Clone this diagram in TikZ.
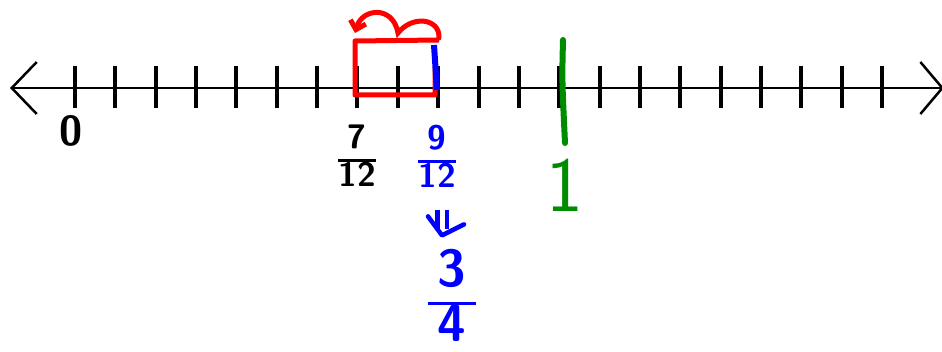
\documentclass[tikz,border=0pt]{standalone}
\usepackage{fontspec}
\usetikzlibrary{arrows.meta}

\definecolor{rojo}{RGB}{255,0,0}
\definecolor{azul}{RGB}{0,0,255}
\definecolor{verde}{RGB}{0,140,0}

\newcommand{\fraccion}[3][0pt]{{\setlength{\arrayrulewidth}{3pt}%
	\renewcommand{\arraystretch}{0.85}%
	\begin{tabular}{@{\hspace{#1}}c@{\hspace{#1}}}#2\\[2pt]\hline #3\end{tabular}}}

\begin{document}
\begin{tikzpicture}[x=1pt, y=-1pt,
	marca/.style={line width=4pt},
	etiqueta/.style={inner sep=0pt, font=\fontsize{34}{34}\selectfont\sffamily\bfseries}]

\useasboundingbox (0,0) rectangle (942,352);

% Recta numerica
\draw[line width=2.5pt, {Straight Barb[length=25pt, width=52pt]}-{Straight Barb[length=22pt, width=52pt]}] (10,88) -- (944,88);

	\foreach \i in {0, 1, ..., 20}
		\draw[marca] ({75+40.35*\i},66) -- ({75+40.35*\i},108);

\node[etiqueta, font=\fontsize{42}{42}\selectfont\sffamily\bfseries] (cero) at (71,131) {0};
\node[etiqueta] (sieteDoce) at (357,160) {\fraccion{7}{12}};

% Saltos hacia atras
\draw[rojo, line width=5pt, line join=round] (439,40) -- (355,41) -- (355,95) -- (435,95) -- (435,67);
\draw[azul, line width=6pt] (434,45) -- (437,90);
\draw[rojo, line width=5pt, line cap=round, -{Straight Barb[length=8pt, width=16pt]}]
	(439,38) .. controls (440,18) and (412,15) .. (398,33)
	.. controls (393,5) and (362,8) .. (355,33);

% Fraccion equivalente
\node[etiqueta, text=azul] (nueveDoce) at (437,161) {\fraccion{9}{12}};
\node[etiqueta, text=azul, font=\fontsize{52}{52}\selectfont\sffamily\bfseries] (tresCuartos) at (452,302) {\fraccion[10pt]{3}{4}};
\coordinate[xshift=5pt, yshift=14pt] (punta) at (nueveDoce.south |- tresCuartos.north);
\draw[azul, line width=4.5pt, double distance=5pt, shorten <=13pt, shorten >=6pt]
	([xshift=5pt]nueveDoce.south) -- (punta);
\draw[azul, line width=4.5pt, line cap=round, line join=round]
	([shift={(-14pt,19pt)}]punta) -- (punta) -- ([shift={(22pt,11pt)}]punta);

% El entero
\draw[verde, line width=6pt, line cap=round] (563,40) .. controls (562,80) .. (565,143);
\node[inner sep=0pt, text=verde, font=\fontsize{78}{78}\selectfont\sffamily] (uno) at (565,185) {1};

\end{tikzpicture}
\end{document}
